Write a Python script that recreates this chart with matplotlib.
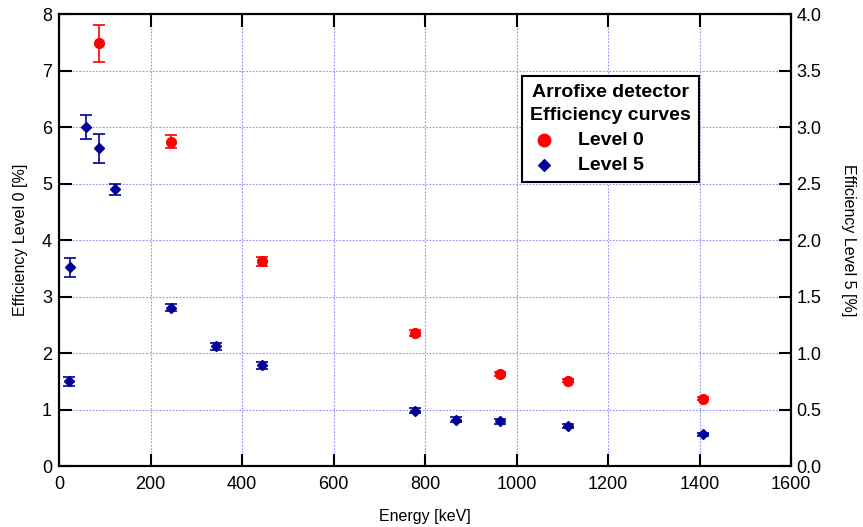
import numpy as np
import matplotlib.pyplot as plt

plt.rcParams['font.family'] = ['Liberation Sans', 'DejaVu Sans']

# Level 0 (left axis)
energy_l0 = [88, 245, 444, 779, 964, 1112, 1408]
eff_l0 = [7.48, 5.74, 3.62, 2.35, 1.63, 1.51, 1.19]
err_l0 = [0.33, 0.12, 0.08, 0.05, 0.03, 0.03, 0.03]

# Level 5 (right axis)
energy_l5 = [22, 25, 59, 88, 122, 245, 344, 444, 779, 867, 964, 1112, 1408]
eff_l5 = [0.75, 1.76, 3.00, 2.81, 2.45, 1.40, 1.06, 0.89, 0.49, 0.41, 0.395, 0.355, 0.28]
err_l5 = [0.04, 0.085, 0.11, 0.125, 0.05, 0.03, 0.03, 0.03, 0.02, 0.02, 0.02, 0.02, 0.015]

red = '#ff0000'
blue = '#000099'
grid_col = '#8c8cff'

fig = plt.figure(figsize=(8.63, 5.27), dpi=100)
ax = fig.add_axes([0.0684, 0.1157, 0.8482, 0.8577])
ax2 = ax.twinx()

ax.errorbar(energy_l0, eff_l0, yerr=err_l0, fmt='o', color=red, ms=7,
            capsize=4, elinewidth=1.2, capthick=1.2, zorder=3)
ax2.errorbar(energy_l5, eff_l5, yerr=err_l5, fmt='D', color=blue, ms=5.5,
             capsize=4, elinewidth=1.2, capthick=1.2, zorder=3)

ax.set_xlim(0, 1600)
ax.set_ylim(0, 8)
ax2.set_ylim(0, 4)
ax.set_xticks(np.arange(0, 1601, 200))
ax.set_yticks(np.arange(0, 9, 1))
ax2.set_yticks(np.arange(0, 4.01, 0.5))
ax2.set_yticklabels([f'{v:.1f}' for v in np.arange(0, 4.01, 0.5)])

ax.grid(True, color=grid_col, linestyle=(0, (1.5, 1.5)), linewidth=0.8)
ax.set_axisbelow(True)

ax.tick_params(axis='both', direction='in', length=9, width=1.5, labelsize=13,
               top=True)
ax.tick_params(axis='x', pad=7)
ax.tick_params(axis='y', right=False, pad=5)
ax2.tick_params(axis='y', direction='in', length=9, width=1.5, labelsize=13, pad=4)
for a in (ax, ax2):
    for s in a.spines.values():
        s.set_linewidth(1.5)

ax.set_xlabel('Energy [keV]', fontsize=11.5)
ax.xaxis.set_label_coords(0.5, -0.095)
ax.set_ylabel('Efficiency Level 0 [%]', fontsize=11.5, labelpad=10)
ax2.set_ylabel('Efficiency Level 5 [%]', fontsize=11.5, rotation=270, labelpad=25)

# legend
h0 = ax.scatter([], [], marker='o', color=red, s=80)
h5 = ax.scatter([], [], marker='D', color=blue, s=36)
leg = ax2.legend([h0, h5], ['Level 0', 'Level 5'],
                 title='Arrofixe detector\nEfficiency curves',
                 loc='upper left', bbox_to_anchor=(0.632, 0.863),
                 borderaxespad=0, alignment='left',
                 prop={'weight': 'bold', 'size': 14},
                 title_fontproperties={'weight': 'bold', 'size': 14},
                 frameon=True, fancybox=False, edgecolor='black', framealpha=1,
                 handletextpad=1.0, borderpad=0.42, labelspacing=0.38,
                 handlelength=1.5)
leg.get_title().set_linespacing(1.45)
leg.get_title().set_multialignment('center')
leg.get_frame().set_linewidth(1.5)

fig.savefig('out.png', dpi=100)
